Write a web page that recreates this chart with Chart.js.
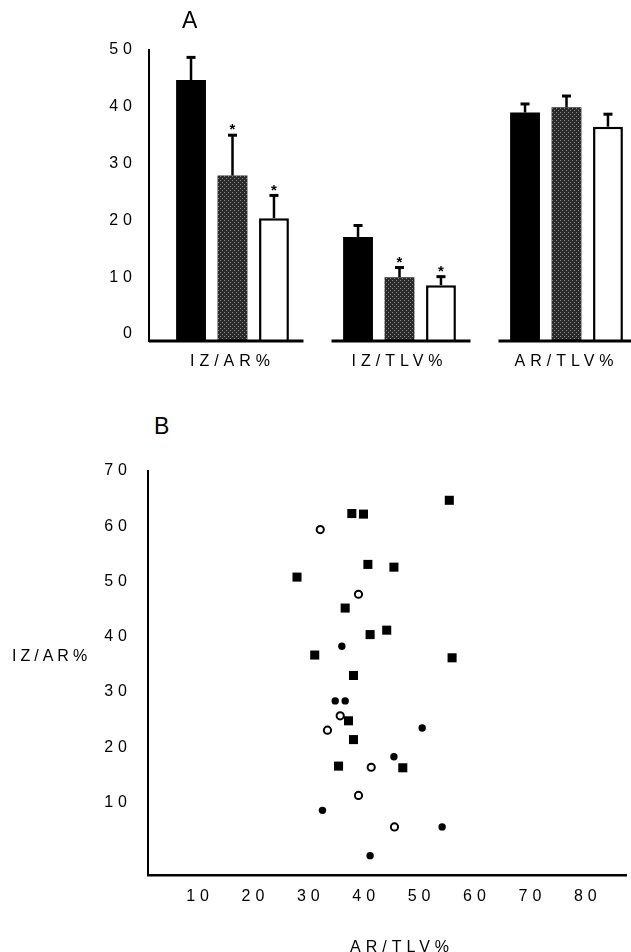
<!DOCTYPE html>
<html>
<head>
<meta charset="utf-8">
<script src="https://cdn.jsdelivr.net/npm/chart.js@4.4.1/dist/chart.umd.min.js"></script>
<style>
  html, body { margin: 0; padding: 0; background: #fff; overflow: hidden; width: 631px; height: 952px; }
  body { position: relative; font-family: 'Liberation Sans', Arial, sans-serif; color: #000; }
  canvas { position: absolute; left: 0; }
  #chartA { top: 0; }
  #chartB { top: 440px; }
  .txt { position: absolute; white-space: nowrap; line-height: 1; }
</style>
</head>
<body>
<canvas id="chartA" width="660" height="380"></canvas>
<canvas id="chartB" width="660" height="512"></canvas>
<div class="txt" style="left:182px; top:9px; font-size:23px;">A</div>
<div class="txt" style="left:154px; top:415px; font-size:23px;">B</div>
<div class="txt" style="left:12px; top:648px; font-size:16px; letter-spacing:4px;">IZ/AR%</div>
<div class="txt" style="left:350px; top:939px; font-size:16px; letter-spacing:5px;">AR/TLV%</div>
<script>
// panel A: group means and upward error bars
let categories = ['IZ/AR%', 'IZ/TLV%', 'AR/TLV%'];
let blackMeans = [44.7, 17.1, 39.0];
let blackErr = [4.0, 2.0, 1.5];
let grayMeans = [27.9, 10.0, 39.9];
let grayErr = [7.1, 1.7, 2.0];
let whiteMeans = [20.4, 8.6, 36.5];
let whiteErr = [4.0, 1.5, 2.2];
let blackStars = ['', '', ''];
let grayStars = ['*', '*', ''];
let whiteStars = ['*', '*', ''];
let yTicksA = [0, 10, 20, 30, 40, 50];

// panel B: AR/TLV% (x) vs IZ/AR% (y)
let squaresX = [55.0, 37.4, 39.5, 40.3, 45.0, 27.5, 36.2, 43.7, 40.7, 30.7, 55.5, 37.7, 36.8, 37.7, 35.0, 46.6];
let squaresY = [64.7, 62.3, 62.2, 53.1, 52.6, 50.8, 45.2, 41.2, 40.4, 36.7, 36.2, 33.0, 24.8, 21.4, 16.6, 16.3];
let openX = [31.7, 38.6, 35.3, 33.0, 40.9, 38.6, 45.1];
let openY = [59.4, 47.7, 25.7, 23.1, 16.4, 11.3, 5.6];
let dotsX = [35.6, 34.4, 36.2, 50.1, 45.0, 32.1, 53.7, 40.7];
let dotsY = [38.3, 28.4, 28.4, 23.5, 18.3, 8.6, 5.6, 0.4];
let xTicksB = [10, 20, 30, 40, 50, 60, 70, 80];
let yTicksB = [10, 20, 30, 40, 50, 60, 70];

const font = { family: "'Liberation Sans', Arial, sans-serif", size: 16 };

// spaced-out lettering like the printed figure
const spacing = {
    id: 'spacing',
    beforeUpdate(chart) { chart.ctx.letterSpacing = '5px'; },
    beforeDraw(chart) { chart.ctx.letterSpacing = '5px'; }
};

// stippled fill for the middle bars
function stipple() {
    const c = document.createElement('canvas');
    c.width = 4; c.height = 4;
    const g = c.getContext('2d');
    g.fillStyle = '#2a2a2a';
    g.fillRect(0, 0, 4, 4);
    g.fillStyle = '#8a8a8a';
    g.fillRect(0, 0, 1, 1);
    g.fillRect(2, 2, 1, 1);
    return g.createPattern(c, 'repeat');
}

const zip = (xs, ys) => xs.map((x, i) => ({ x: x, y: ys[i] }));

// baseline broken under each group
const brokenAxis = {
    id: 'brokenAxis',
    afterDatasetsDraw(chart) {
        const ctx = chart.ctx, x = chart.scales.x, y = chart.scales.y;
        const yb = y.getPixelForValue(y.min);
        ctx.save();
        ctx.strokeStyle = '#000';
        ctx.lineWidth = 3;
        categories.forEach((c, j) => {
            const cx = x.getPixelForValue(j);
            const left = j === 0 ? chart.chartArea.left : cx - 68;
            ctx.beginPath();
            ctx.moveTo(left, yb);
            ctx.lineTo(cx + 71, yb);
            ctx.stroke();
        });
        ctx.restore();
    }
};

const errs = [blackErr, grayErr, whiteErr];
const stars = [blackStars, grayStars, whiteStars];

const errorBars = {
    id: 'errorBars',
    afterDatasetsDraw(chart) {
        const ctx = chart.ctx, y = chart.scales.y;
        ctx.save();
        ctx.strokeStyle = '#000';
        ctx.fillStyle = '#000';
        ctx.letterSpacing = '0px';
        ctx.textAlign = 'center';
        ctx.textBaseline = 'middle';
        ctx.font = "bold 15px 'Liberation Sans', Arial, sans-serif";
        chart.data.datasets.forEach((ds, i) => {
            chart.getDatasetMeta(i).data.forEach((bar, j) => {
                const top = y.getPixelForValue(ds.data[j] + errs[i][j]);
                ctx.lineWidth = 2.5;
                ctx.beginPath();
                ctx.moveTo(bar.x, bar.y);
                ctx.lineTo(bar.x, top);
                ctx.stroke();
                ctx.lineWidth = 3;
                ctx.beginPath();
                ctx.moveTo(bar.x - 4.5, top);
                ctx.lineTo(bar.x + 4.5, top);
                ctx.stroke();
                if (stars[i][j]) ctx.fillText(stars[i][j], bar.x, top - 5);
            });
        });
        ctx.restore();
    }
};

const chartA = new Chart(document.getElementById('chartA').getContext('2d'), {
    type: 'bar',
    data: {
        labels: categories,
        datasets: [{
            label: 'Group 1',
            data: blackMeans,
            backgroundColor: '#000',
            base: -1.23
        }, {
            label: 'Group 2',
            data: grayMeans,
            backgroundColor: stipple(),
            base: -1.23
        }, {
            label: 'Group 3',
            data: whiteMeans,
            backgroundColor: '#fff',
            borderColor: '#000',
            borderWidth: 2.5,
            base: -1.23
        }]
    },
    options: {
        responsive: false,
        animation: false,
        categoryPercentage: 0.745,
        barPercentage: 0.72,
        layout: { padding: { left: 0, top: 50, right: 10, bottom: 0 } },
        plugins: { legend: { display: false }, tooltip: { enabled: false } },
        scales: {
            x: {
                grid: { display: false, drawTicks: false },
                border: { display: false },
                ticks: { color: '#000', font: font, padding: 11 },
                afterFit(s) { s.height = 39; }
            },
            y: {
                min: -1.23,
                max: 50,
                grid: { display: false, drawTicks: false },
                border: { color: '#000', width: 2 },
                ticks: { color: '#000', font: font, padding: 12 },
                afterBuildTicks(s) { s.ticks = yTicksA.map(v => ({ value: v })); },
                afterFit(s) { s.width = 149; }
            }
        }
    },
    plugins: [spacing, brokenAxis, errorBars]
});

const chartB = new Chart(document.getElementById('chartB').getContext('2d'), {
    type: 'scatter',
    data: {
        datasets: [{
            label: 'squares',
            data: zip(squaresX, squaresY),
            pointStyle: 'rect',
            pointRadius: 6.4,
            backgroundColor: '#000',
            borderWidth: 0
        }, {
            label: 'open circles',
            data: zip(openX, openY),
            pointStyle: 'circle',
            pointRadius: 3.6,
            backgroundColor: '#fff',
            borderColor: '#000',
            borderWidth: 2
        }, {
            label: 'filled circles',
            data: zip(dotsX, dotsY),
            pointStyle: 'circle',
            pointRadius: 3.7,
            backgroundColor: '#000',
            borderWidth: 0
        }]
    },
    options: {
        responsive: false,
        animation: false,
        layout: { padding: { left: 0, top: 31, right: 34, bottom: 0 } },
        plugins: { legend: { display: false }, tooltip: { enabled: false } },
        scales: {
            x: {
                type: 'linear',
                min: 0.6,
                max: 86.9,
                grid: { display: false, drawTicks: false },
                border: { color: '#000', width: 2.5 },
                ticks: { color: '#000', font: font, padding: 12 },
                afterBuildTicks(s) { s.ticks = xTicksB.map(v => ({ value: v })); },
                afterFit(s) { s.height = 77; }
            },
            y: {
                min: -3.1,
                max: 70,
                grid: { display: false, drawTicks: false },
                border: { color: '#000', width: 2 },
                ticks: { color: '#000', font: font, padding: 16 },
                afterBuildTicks(s) { s.ticks = yTicksB.map(v => ({ value: v })); },
                afterFit(s) { s.width = 148; }
            }
        }
    },
    plugins: [spacing]
});
</script>
</body>
</html>
